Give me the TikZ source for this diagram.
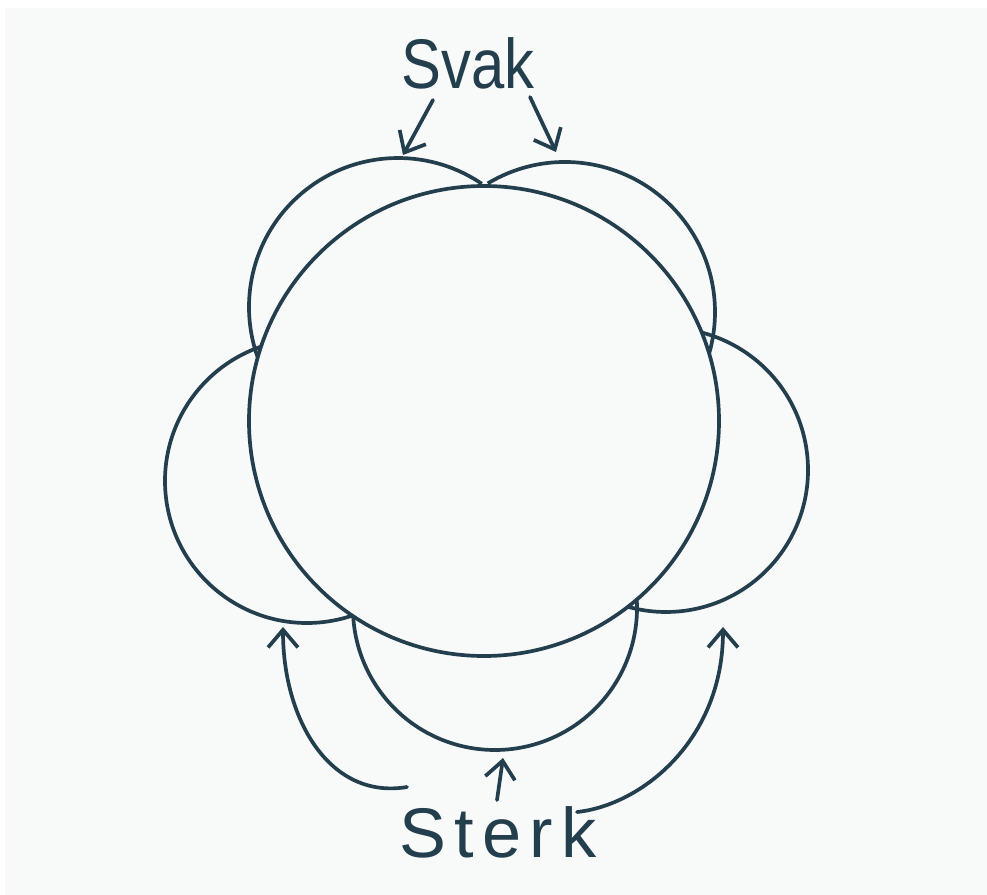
\documentclass[tikz,border=0pt]{standalone}
\usepackage{fontspec}
\setmainfont{Liberation Sans}
\usetikzlibrary{arrows.meta}

\definecolor{ink}{RGB}{35,62,76}
\definecolor{paper}{RGB}{248,249,249}

\begin{document}
\begin{tikzpicture}[
            x=0.02cm, y=-0.02cm,
            lobe/.style={draw=ink, line width=2.1pt},
            core/.style={draw=ink, fill=paper, line width=2.1pt},
            word/.style={text=ink, font=\fontsize{40}{40}\selectfont, inner sep=0pt},
            pointer/.style={draw=ink, line width=2.1pt, line cap=round, -{Straight Barb[length=10pt, width=17pt]}}
        ]
            \fill[white] (0,0) rectangle (987,895);
            \fill[paper] (5,8) rectangle (987,895);

            % lobes, partly hidden by the core
            \draw[lobe] (398,307) ++(140:149) arc[start angle=140, end angle=304.2, radius=149];
            \draw[lobe] (565,312) ++(239:150) arc[start angle=239, end angle=385, radius=150];
            \draw[lobe] (666,470) ++(-95:142) arc[start angle=-95, end angle=120, radius=142];
            \draw[lobe] (495,608) ++(190:142) arc[start angle=190, end angle=-15, radius=142];
            \draw[lobe] (307,481) ++(265:142) arc[start angle=265, end angle=55, radius=142];

            \node[core, circle, minimum size=470*0.02cm, inner sep=0pt] (core) at (484,421) {};

            \node[word, xscale=0.85] (svak) at (468,63) {Svak};
            \node[word] (sterk) at (498,832) {\addfontfeatures{LetterSpace=12}Sterk};

            \coordinate (svak left) at (433,100);
            \coordinate (svak right) at (530,97);
            \coordinate (tl tip) at (403,155);
            \coordinate (tr tip) at (556,152);

            \coordinate (sterk left) at (407,787);
            \coordinate (sterk mid) at (497,800);
            \coordinate (sterk right) at (577,812);
            \coordinate (l tip) at (283,627);
            \coordinate (b tip) at (503,758);
            \coordinate (r tip) at (723,627);

            \draw[pointer] (svak left) -- (tl tip);
            \draw[pointer] (svak right) -- (tr tip);
            \draw[pointer] (sterk left) .. controls (330,800) and (283,720) .. (l tip);
            \draw[pointer] (sterk mid) -- (b tip);
            \draw[pointer] (sterk right) .. controls (642,805) and (723,740) .. (r tip);
        \end{tikzpicture}
\end{document}
